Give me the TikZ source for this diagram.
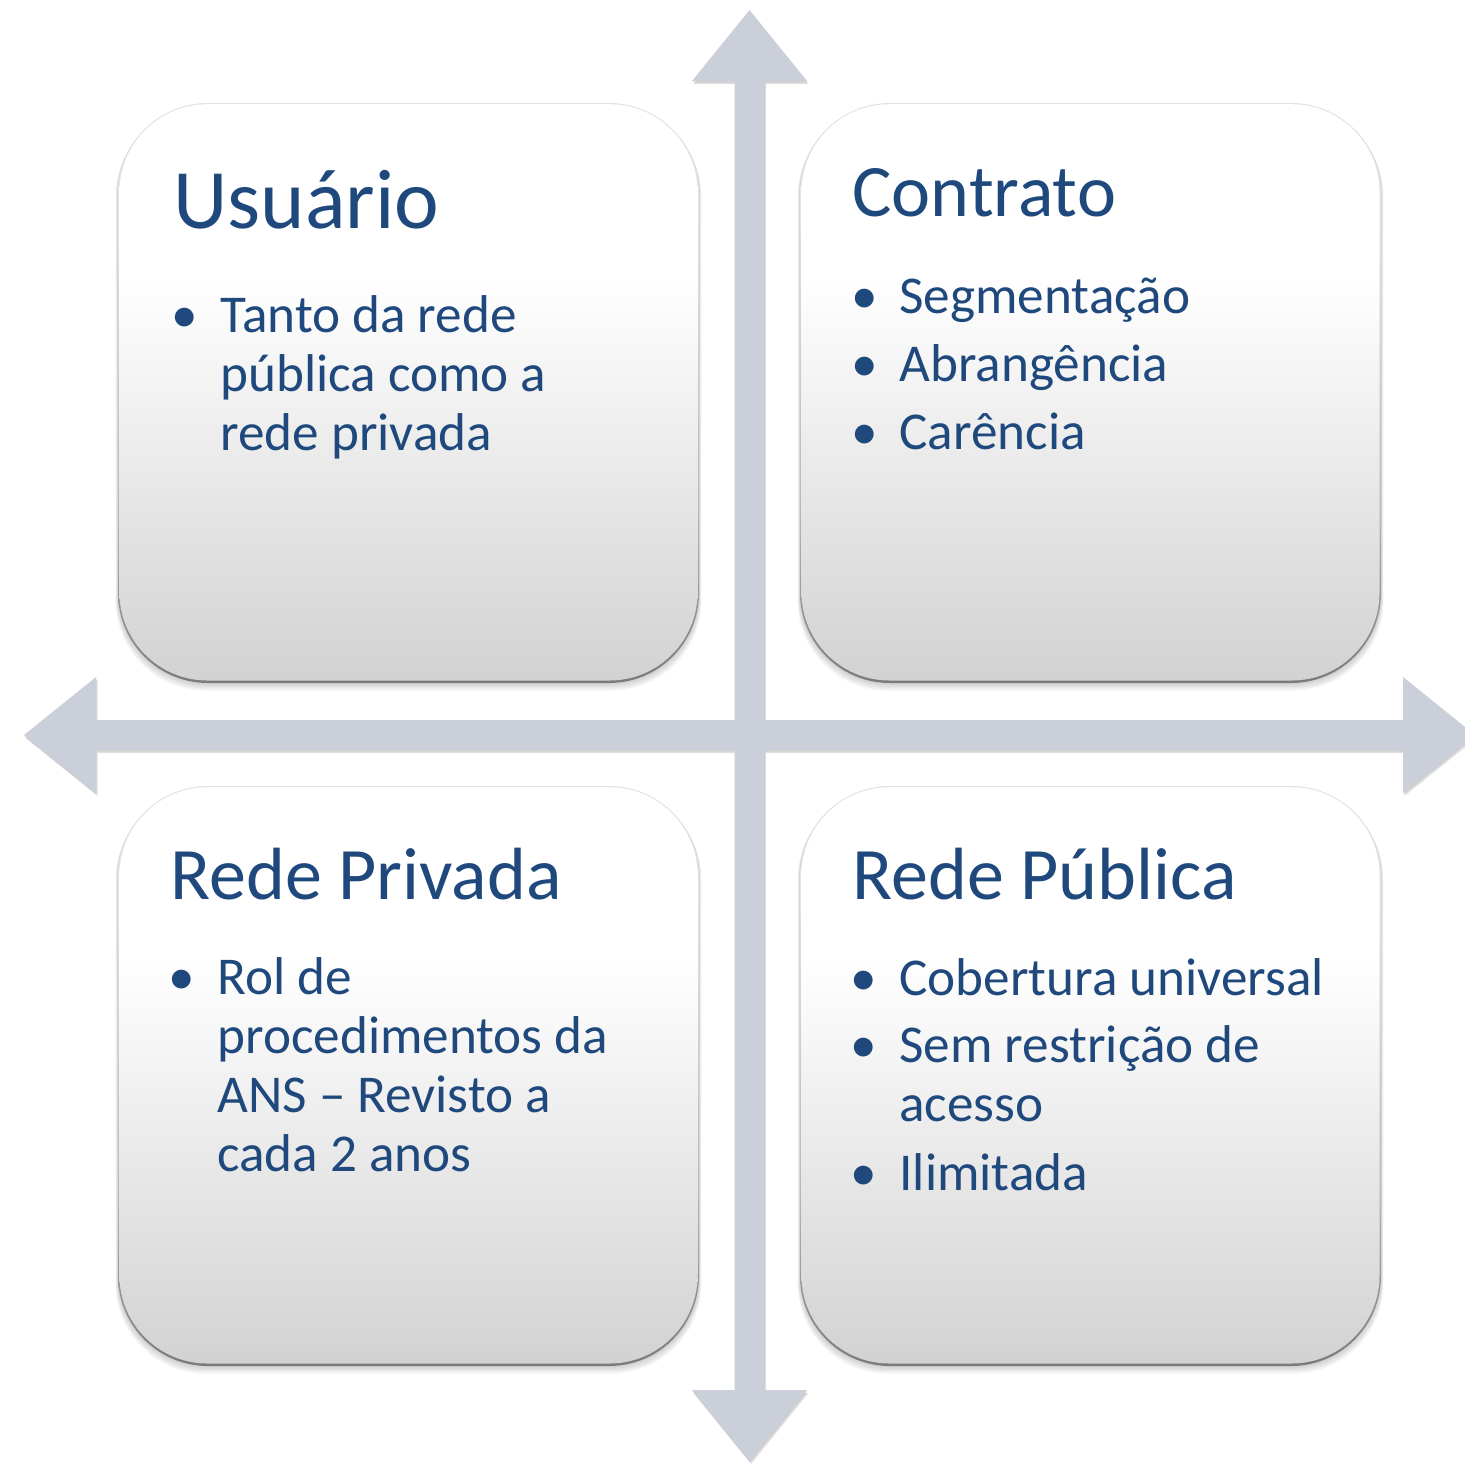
\documentclass[tikz,border=0pt]{standalone}
\usepackage{fontspec}
\setmainfont{Carlito}
\definecolor{txt}{HTML}{1F497D}
\definecolor{arr}{HTML}{CBCFDA}
\definecolor{boxbot}{HTML}{D2D2D2}
\definecolor{edgetop}{HTML}{E2E2E2}
\definecolor{edgemid}{HTML}{B8B8B8}
\definecolor{edgebot}{HTML}{7A7A7A}
\pgfdeclareverticalshading{boxfill}{100bp}{color(0bp)=(boxbot); color(25bp)=(boxbot); color(60bp)=(white); color(100bp)=(white)}
\pgfdeclareverticalshading{boxedge}{100bp}{color(0bp)=(edgebot); color(25bp)=(edgebot); color(40bp)=(edgemid); color(65bp)=(edgetop); color(100bp)=(edgetop)}
\newcommand{\qbx}[4]{%
  \foreach \k in {1,...,6} {%
    \fill[black,opacity=0.03,rounded corners=45pt] (#1-\k*0.4,#2+\k*0.6) rectangle (#3+\k*0.4,#4+\k*1.3);}
  \shade[shading=boxedge,rounded corners=45pt] (#1,#2) rectangle (#3,#4);
  \shade[shading=boxfill,rounded corners=44pt] (#1+1.5,#2+1.2) rectangle (#3-1.5,#4-2.5);
}
\tikzset{
  ttl/.style={anchor=base west, inner sep=0pt, text=txt, font=\fontsize{37}{44}\selectfont},
  bul/.style={anchor=base, inner sep=0pt, text=txt, font=\fontsize{26.6}{29.5}\selectfont},
  itm/.style={anchor=base west, inner sep=0pt, text=txt, font=\fontsize{26.6}{29.5}\selectfont},
  crossarrow/.pic={
    \path[pic actions] (749.5,10) -- (807,81) -- (764.5,81) -- (764.5,720) -- (1403,720) -- (1403,677)
      -- (1475,735) -- (1403,793) -- (1403,750) -- (764.5,750) -- (764.5,1390) -- (807,1390)
      -- (749.5,1461) -- (692,1390) -- (734.5,1390) -- (734.5,750) -- (96,750) -- (96,793)
      -- (24,735) -- (96,677) -- (96,720) -- (734.5,720) -- (734.5,81) -- (692,81) -- cycle;
  }
}
\begin{document}
\begin{tikzpicture}[x=0.5pt,y=-0.5pt]
\useasboundingbox (0,0) rectangle (1465,1463);
\clip (0,0) rectangle (1465,1463);
% arrows
\pic[fill=black,opacity=0.12] at (1.5,3) {crossarrow};
\pic[fill=black,opacity=0.08] at (0.5,1.5) {crossarrow};
\pic[fill=arr] at (0,0) {crossarrow};
% boxes
\qbx{118}{103}{699}{683}
\qbx{800}{103}{1381}{683}
\qbx{118}{786}{699}{1366}
\qbx{800}{786}{1381}{1366}
% Usuario
\node[ttl,font=\fontsize{42.3}{50}\selectfont] (t1) at (173,228) {Usuário};
\node[bul] (b11) at (185,332) {\textbullet};
\node[itm] (i11) at (220,332) {\parbox[t]{300pt}{Tanto da rede\\pública como a\\rede privada}};
% Contrato
\node[ttl] (t2) at (852,216) {Contrato};
\node[bul] (b21) at (865,313) {\textbullet};
\node[itm] (i21) at (899,313) {Segmentação};
\node[bul] (b22) at (865,381) {\textbullet};
\node[itm] (i22) at (899,381) {Abrangência};
\node[bul] (b23) at (865,449) {\textbullet};
\node[itm] (i23) at (899,449) {Carência};
% Rede Privada
\node[ttl] (t3) at (170,899) {Rede Privada};
\node[bul] (b31) at (182,994) {\textbullet};
\node[itm] (i31) at (217,994) {\parbox[t]{300pt}{Rol de\\procedimentos da\\ANS – Revisto a\\cada 2 anos}};
% Rede Publica
\node[ttl] (t4) at (852,899) {Rede Pública};
\node[bul] (b41) at (864,995) {\textbullet};
\node[itm] (i41) at (899,995) {Cobertura universal};
\node[bul] (b42) at (864,1062) {\textbullet};
\node[itm] (i42) at (899,1062) {\parbox[t]{300pt}{Sem restrição de\\acesso}};
\node[bul] (b43) at (864,1190) {\textbullet};
\node[itm] (i43) at (899,1190) {Ilimitada};
\end{tikzpicture}
\end{document}
